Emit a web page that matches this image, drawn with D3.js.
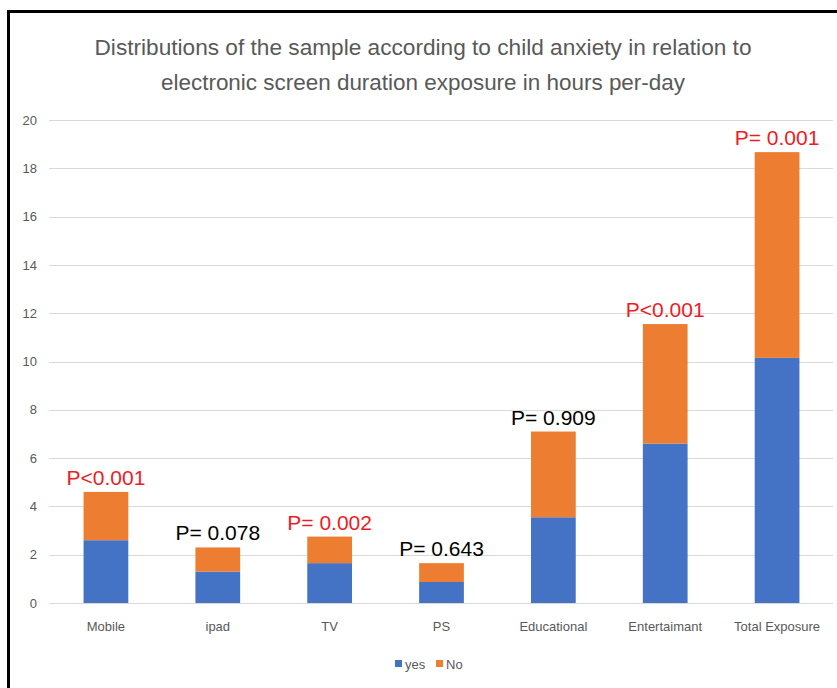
<!DOCTYPE html>
<html>
<head>
<meta charset="utf-8">
<script src="https://cdn.jsdelivr.net/npm/d3@7"></script>
<style>
  html, body { margin: 0; padding: 0; background: #fff; }
  svg { display: block; }
</style>
</head>
<body>
<script>
const categories = ["Mobile", "ipad", "TV", "PS", "Educational", "Entertaimant", "Total Exposure"];
const yesValues = [2.6, 1.3, 1.65, 0.87, 3.55, 6.6, 10.15];
const noValues = [2.0, 1.0, 1.1, 0.78, 3.55, 4.95, 8.52];
const pLabels = ["P<0.001", "P= 0.078", "P= 0.002", "P= 0.643", "P= 0.909", "P<0.001", "P= 0.001"];
const pSignificant = [true, false, true, false, false, true, true];
const yTicks = [0, 2, 4, 6, 8, 10, 12, 14, 16, 18, 20];
const seriesNames = ["yes", "No"];
const titleLines = [
  "Distributions of the sample according to child anxiety in relation to",
  "electronic screen duration exposure in hours per-day"
];

const W = 837, H = 688;
const colors = { yes: "#4472c4", No: "#ed7d31" };
const font = "'Liberation Sans', Arial, sans-serif";
const gray = "#595959";

const svg = d3.select("body").append("svg").attr("width", W).attr("height", H);
svg.append("rect").attr("width", W).attr("height", H).attr("fill", "#fff");

// frame (top and left edges visible)
svg.append("path")
  .attr("d", `M8.5,${H + 5} L8.5,11.5 L${W + 5},11.5`)
  .attr("fill", "none").attr("stroke", "#000").attr("stroke-width", 3);

// title
const titleY = [55, 90];
const titleLen = [657, 524];
titleLines.forEach((t, i) => {
  svg.append("text")
    .attr("x", 423).attr("y", titleY[i])
    .attr("text-anchor", "middle")
    .attr("font-family", font).attr("font-size", 22)
    .attr("fill", gray)
    .attr("textLength", titleLen[i]).attr("lengthAdjust", "spacingAndGlyphs")
    .text(t);
});

const x = d3.scaleBand().domain(categories).range([50, 833]).paddingInner(0.6).paddingOuter(0.3);
const y = d3.scaleLinear().domain([0, 20]).range([603, 120]);

// gridlines
svg.append("g").selectAll("line").data(yTicks).join("line")
  .attr("x1", 49).attr("x2", 833)
  .attr("y1", d => Math.round(y(d)) + 0.5).attr("y2", d => Math.round(y(d)) + 0.5)
  .attr("stroke", "#d9d9d9").attr("stroke-width", 1);

// y axis labels
const yAxis = d3.axisLeft(y).tickValues(yTicks).tickSize(0).tickPadding(0);
const gy = svg.append("g").attr("transform", "translate(37,0)").call(yAxis);
gy.select(".domain").remove();
gy.selectAll("text").attr("font-family", font).attr("font-size", 13).attr("fill", gray);

// stacked data
const rows = categories.map((c, i) => ({ cat: c, yes: yesValues[i], No: noValues[i] }));
const stack = d3.stack().keys(seriesNames)(rows);

svg.append("g").selectAll("g").data(stack).join("g")
  .attr("fill", d => colors[d.key])
  .selectAll("rect").data(d => d).join("rect")
  .attr("x", d => x(d.data.cat))
  .attr("width", x.bandwidth())
  .attr("y", d => y(d[1]))
  .attr("height", d => y(d[0]) - y(d[1]));

// x category labels
const xAxis = d3.axisBottom(x).tickSize(0).tickPadding(0);
const gx = svg.append("g").attr("transform", "translate(0,622)").call(xAxis);
gx.select(".domain").remove();
gx.selectAll("text").attr("font-family", font).attr("font-size", 13).attr("fill", gray);

// p-value labels
svg.append("g").selectAll("text").data(rows).join("text")
  .attr("x", d => x(d.cat) + x.bandwidth() / 2)
  .attr("y", d => y(d.yes + d.No) - 7)
  .attr("text-anchor", "middle")
  .attr("font-family", font).attr("font-size", 21)
  .attr("fill", (d, i) => pSignificant[i] ? "#ee1c25" : "#000")
  .text((d, i) => pLabels[i]);

// legend
const legend = svg.append("g").attr("transform", "translate(395,664)");
const legX = [0, 41];
seriesNames.forEach((s, i) => {
  const g = legend.append("g").attr("transform", `translate(${legX[i]},0)`);
  g.append("rect").attr("x", 0).attr("y", -4).attr("width", 7).attr("height", 7).attr("fill", colors[s]);
  g.append("text").attr("x", 10).attr("y", 4.5)
    .attr("font-family", font).attr("font-size", 13).attr("fill", gray).text(s);
});
</script>
</body>
</html>
